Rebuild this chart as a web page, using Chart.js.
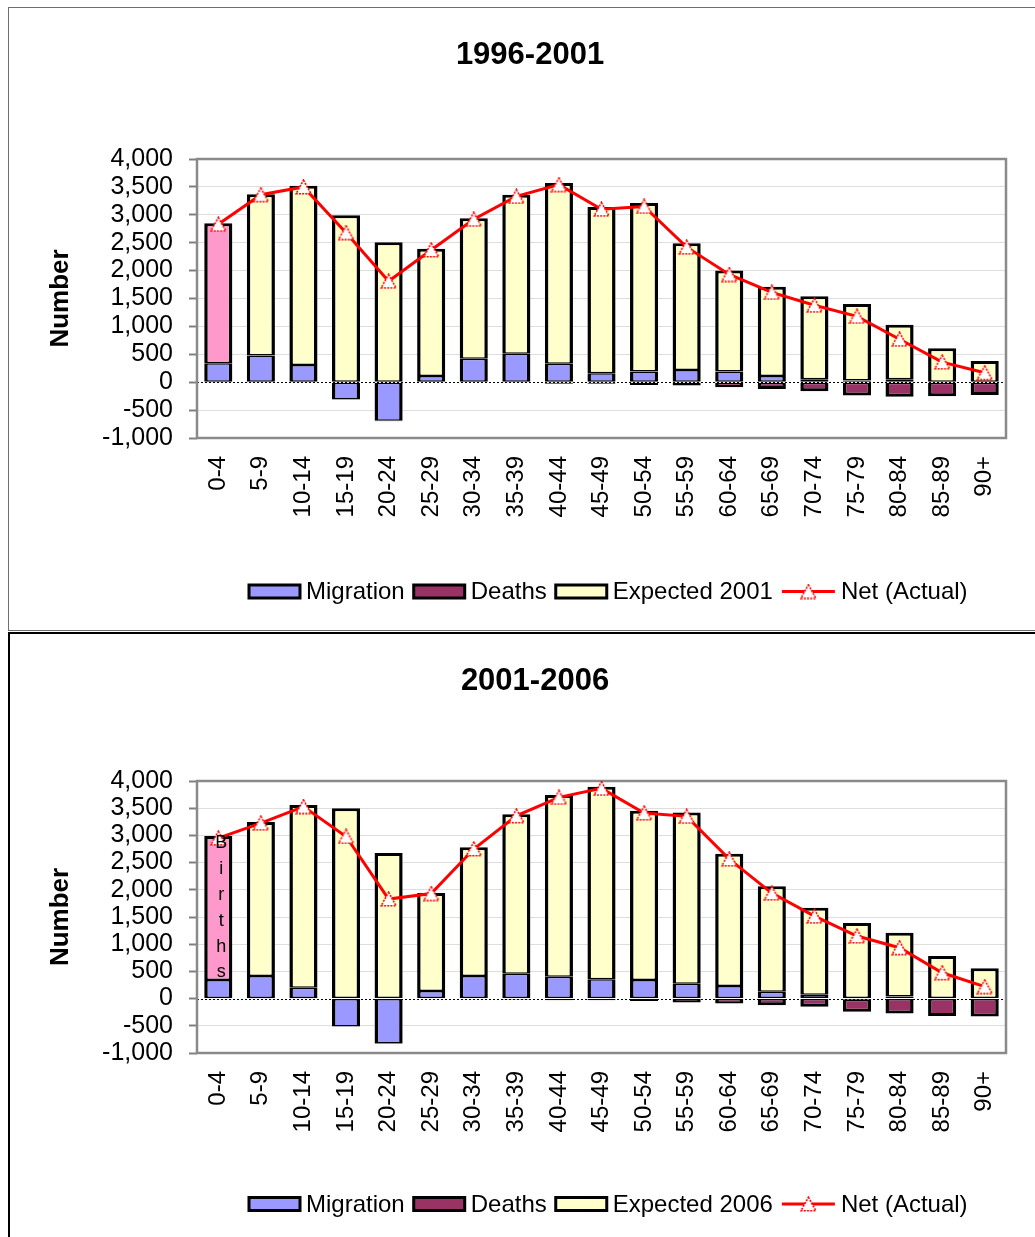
<!DOCTYPE html>
<html>
<head>
<meta charset="utf-8">
<title>Population change by age group</title>
<script src="https://cdn.jsdelivr.net/npm/chart.js@4.4.1/dist/chart.umd.min.js"></script>
<style>
  html, body { margin: 0; padding: 0; background: #fff; overflow: hidden; width: 1035px; height: 1237px; }
  .frame { position: absolute; box-sizing: border-box; }
  #frame1 { left: 8px; top: 7px; width: 1040px; height: 624px; border: 1.5px solid #6e6e6e; }
  #frame2 { left: 8px; top: 632px; width: 1040px; height: 640px; border: 2px solid #000; }
  canvas { position: absolute; display: block; }
  #chart1 { left: 9px; top: 8px; }
  #chart2 { left: 9px; top: 634px; }
</style>
</head>
<body>
<div class="frame" id="frame1"></div>
<div class="frame" id="frame2"></div>
<canvas id="chart1" width="1026" height="622"></canvas>
<canvas id="chart2" width="1026" height="603"></canvas>
<script>
// Age groups along the x axis
const ageGroups = ['0-4', '5-9', '10-14', '15-19', '20-24', '25-29', '30-34', '35-39', '40-44',
  '45-49', '50-54', '55-59', '60-64', '65-69', '70-74', '75-79', '80-84', '85-89', '90+'];

// 1996-2001 components of change
const migration9601 = [340, 480, 310, -310, -690, 110, 420, 510, 330, 160, 190, 220, 190, 110, 55, 30, 55, 10, 10];
const deaths9601 = [-15, -5, -5, -5, -10, -10, -10, -15, -30, -30, -50, -60, -90, -120, -160, -240, -260, -250, -230];
const births9601 = [2510, null, null, null, null, null, null, null, null, null, null, null, null, null, null, null, null, null, null];
const expected2001 = [null, 2890, 3210, 2990, 2510, 2280, 2520, 2850, 3240, 2980, 3020, 2270, 1810, 1600, 1485, 1370, 975, 600, 370];
const net9601 = [2830, 3360, 3500, 2680, 1810, 2370, 2920, 3330, 3540, 3100, 3150, 2420, 1930, 1610, 1380, 1180, 770, 360, 170];

// 2001-2006 components of change
const migration0106 = [340, 415, 200, -513, -824, 140, 415, 458, 403, 354, 342, 275, 232, 128, 70, -20, 40, 0, 0];
const deaths0106 = [-10, -5, -5, -5, -10, -10, -10, -15, -30, -30, -43, -73, -92, -122, -150, -220, -275, -318, -330];
const births0106 = [2650, null, null, null, null, null, null, null, null, null, null, null, null, null, null, null, null, null, null];
const expected2006 = [null, 2830, 3360, 3500, 2675, 1800, 2365, 2930, 3340, 3540, 3110, 3145, 2430, 1935, 1600, 1392, 1170, 782, 556];
const net0106 = [2950, 3225, 3530, 2980, 1830, 1930, 2750, 3360, 3700, 3865, 3410, 3350, 2565, 1940, 1515, 1150, 935, 475, 220];

const yTicks = { min: -1000, max: 4000, step: 500 };

const FONT = "'Liberation Sans', Arial, Helvetica, sans-serif";
const COLORS = {
  migration: '#9999FF',
  deaths: '#993366',
  expected: '#FFFFCC',
  births: '#FF99CC',
  net: '#FF0000'
};

// Open triangle marker with a dotted red outline
function makeTriangle() {
  const c = document.createElement('canvas');
  c.width = 17; c.height = 16;
  const g = c.getContext('2d');
  g.beginPath();
  g.moveTo(8.5, 1.2);
  g.lineTo(16, 14.8);
  g.lineTo(1, 14.8);
  g.closePath();
  g.fillStyle = '#fff';
  g.fill();
  g.strokeStyle = COLORS.net;
  g.lineWidth = 1.6;
  g.setLineDash([2, 1.2]);
  g.stroke();
  return c;
}
const triangle = makeTriangle();

// Outline widths for a stacked segment: heavy on the outside of the stack,
// half weight on shared edges so neighbouring segments add up to one heavy line.
const OUTER = 3, INNER = 1.5, SIDE = 3.5;
function segmentBorder(ctx) {
  const sets = ctx.chart.data.datasets;
  const i = ctx.dataIndex;
  const me = ctx.datasetIndex;
  const bars = sets.map((d, k) => ({ k, d })).filter(o => o.d.stack === 'components');
  const val = k => +(sets[k].data[i] || 0);
  const v = val(me);
  const hasPos = bars.some(o => val(o.k) > 0);
  const hasNeg = bars.some(o => val(o.k) < 0);
  let top = INNER, bottom = INNER;
  if (v > 0) {
    const laterPos = bars.some(o => o.k > me && val(o.k) > 0);
    const earlierPos = bars.some(o => o.k < me && val(o.k) > 0);
    if (!laterPos) top = OUTER;
    if (!earlierPos && !hasNeg) bottom = OUTER;
  } else if (v < 0) {
    const laterNeg = bars.some(o => o.k > me && val(o.k) < 0);
    const earlierNeg = bars.some(o => o.k < me && val(o.k) < 0);
    if (!laterNeg) bottom = OUTER;
    if (!earlierNeg && !hasPos) top = OUTER;
  }
  return { top, bottom, left: SIDE, right: SIDE };
}

// Panel decorations: title, plot frame, zero line, legend, vertical "Births" label
const panelDecor = {
  id: 'panelDecor',
  beforeDatasetsDraw(chart) {
    const { ctx, chartArea: a, scales: { y } } = chart;
    ctx.save();
    // zero line
    const y0 = Math.round(y.getPixelForValue(0)) + 0.5;
    ctx.strokeStyle = '#000';
    ctx.lineWidth = 1;
    ctx.setLineDash([2, 2]);
    ctx.beginPath();
    ctx.moveTo(a.left, y0);
    ctx.lineTo(a.right, y0);
    ctx.stroke();
    ctx.setLineDash([]);
    // plot area frame
    ctx.strokeStyle = '#8a8a8a';
    ctx.lineWidth = 2.5;
    ctx.strokeRect(a.left, a.top, a.right - a.left, a.bottom - a.top);
    ctx.restore();
  },
  afterDraw(chart, args, opts) {
    const { ctx } = chart;
    ctx.save();
    // title
    ctx.fillStyle = '#000';
    ctx.font = 'bold 31px ' + FONT;
    ctx.textAlign = 'center';
    ctx.textBaseline = 'middle';
    ctx.fillText(opts.title, opts.titleX, opts.titleY);

    // vertical label inside the births bar
    if (opts.birthsLabel) {
      const idx = chart.data.datasets.findIndex(d => d.label === 'Births');
      const bar = chart.getDatasetMeta(idx).data[0];
      ctx.font = '18px ' + FONT;
      ctx.textAlign = 'center';
      ctx.textBaseline = 'alphabetic';
      opts.birthsLabel.split('').forEach((ch, i) => {
        ctx.fillText(ch, bar.x + 3, bar.y + 12 + i * 25.9);
      });
    }

    // legend
    ctx.font = '24px ' + FONT;
    ctx.textAlign = 'left';
    ctx.textBaseline = 'middle';
    let x = opts.legendX;
    const ly = opts.legendY;
    chart.data.datasets
      .filter(d => d.legendPos !== undefined)
      .sort((a, b) => a.legendPos - b.legendPos)
      .forEach(d => {
        if (d.type === 'line') {
          ctx.strokeStyle = COLORS.net;
          ctx.lineWidth = 3;
          ctx.beginPath();
          ctx.moveTo(x, ly);
          ctx.lineTo(x + 53, ly);
          ctx.stroke();
          ctx.drawImage(triangle, x + 26.5 - 8.5, ly - 8);
          x += 59;
        } else {
          ctx.fillStyle = d.backgroundColor;
          ctx.fillRect(x, ly - 6.5, 51, 13);
          ctx.strokeStyle = '#000';
          ctx.lineWidth = 3;
          ctx.strokeRect(x, ly - 6.5, 51, 13);
          x += 57;
        }
        ctx.fillStyle = '#000';
        ctx.fillText(d.label, x, ly + 1);
        x += ctx.measureText(d.label).width + 9;
      });
    ctx.restore();
  }
};

function barSet(label, data, color, legendPos) {
  return {
    label, data, legendPos,
    backgroundColor: color,
    borderColor: '#000',
    borderWidth: segmentBorder,
    borderSkipped: false,
    barPercentage: 0.66,
    categoryPercentage: 1,
    stack: 'components'
  };
}

function makePanel(canvasId, p) {
  const canvas = document.getElementById(canvasId);
  const H = canvas.height;
  const xAxisHeight = 100;
  return new Chart(canvas, {
    type: 'bar',
    data: {
      labels: ageGroups,
      datasets: [
        {
          type: 'line',
          label: 'Net (Actual)',
          data: p.net,
          legendPos: 3,
          stack: 'net',
          order: -1,
          borderColor: COLORS.net,
          borderWidth: 3,
          tension: 0,
          pointStyle: triangle,
          pointRadius: 8,
          pointHoverRadius: 8
        },
        barSet('Migration', p.migration, COLORS.migration, 0),
        barSet('Deaths', p.deaths, COLORS.deaths, 1),
        barSet('Births', p.births, COLORS.births, undefined),
        barSet(p.expectedLabel, p.expected, COLORS.expected, 2)
      ]
    },
    options: {
      responsive: false,
      animation: false,
      devicePixelRatio: 1,
      layout: {
        padding: { left: 32, right: canvas.width - 997, top: p.chartTop, bottom: H - p.chartBottom - xAxisHeight }
      },
      plugins: {
        legend: { display: false },
        tooltip: { enabled: false },
        title: { display: false },
        panelDecor: {
          title: p.title, titleX: p.titleX, titleY: 47,
          legendX: 240, legendY: p.legendY,
          birthsLabel: p.birthsLabel
        }
      },
      scales: {
        x: {
          stacked: true,
          grid: { display: false, drawTicks: false, tickLength: 0 },
          border: { display: false },
          ticks: {
            color: '#000',
            font: { family: FONT, size: 24 },
            minRotation: 90,
            maxRotation: 90,
            autoSkip: false,
            padding: 18
          },
          afterFit(s) { s.height = xAxisHeight; s.paddingLeft = 0; s.paddingRight = 0; }
        },
        y: {
          stacked: true,
          min: yTicks.min,
          max: yTicks.max,
          border: { display: false },
          grid: {
            color: c => (c.tick && c.tick.value === 0) ? 'rgba(0,0,0,0)' : '#dedede',
            lineWidth: 1,
            drawTicks: true,
            tickLength: 8,
            tickColor: '#808080',
            tickWidth: 2
          },
          ticks: {
            stepSize: yTicks.step,
            autoSkip: false,
            color: '#000',
            font: { family: FONT, size: 25 },
            padding: 16,
            callback: v => v.toLocaleString('en-US')
          },
          title: {
            display: true,
            text: 'Number',
            color: '#000',
            font: { family: FONT, size: 26, weight: 'bold' },
            padding: { top: 4, bottom: 4 }
          },
          afterFit(s) { s.width = 156; s.paddingTop = 0; s.paddingBottom = 0; }
        }
      }
    },
    plugins: [panelDecor]
  });
}

makePanel('chart1', {
  title: '1996-2001', titleX: 521,
  chartTop: 151, chartBottom: 430, legendY: 583.5,
  migration: migration9601, deaths: deaths9601, births: births9601,
  expected: expected2001, expectedLabel: 'Expected 2001', net: net9601
});

makePanel('chart2', {
  title: '2001-2006', titleX: 526,
  chartTop: 147, chartBottom: 419, legendY: 570,
  migration: migration0106, deaths: deaths0106, births: births0106,
  expected: expected2006, expectedLabel: 'Expected 2006', net: net0106,
  birthsLabel: 'Births'
});
</script>
</body>
</html>
